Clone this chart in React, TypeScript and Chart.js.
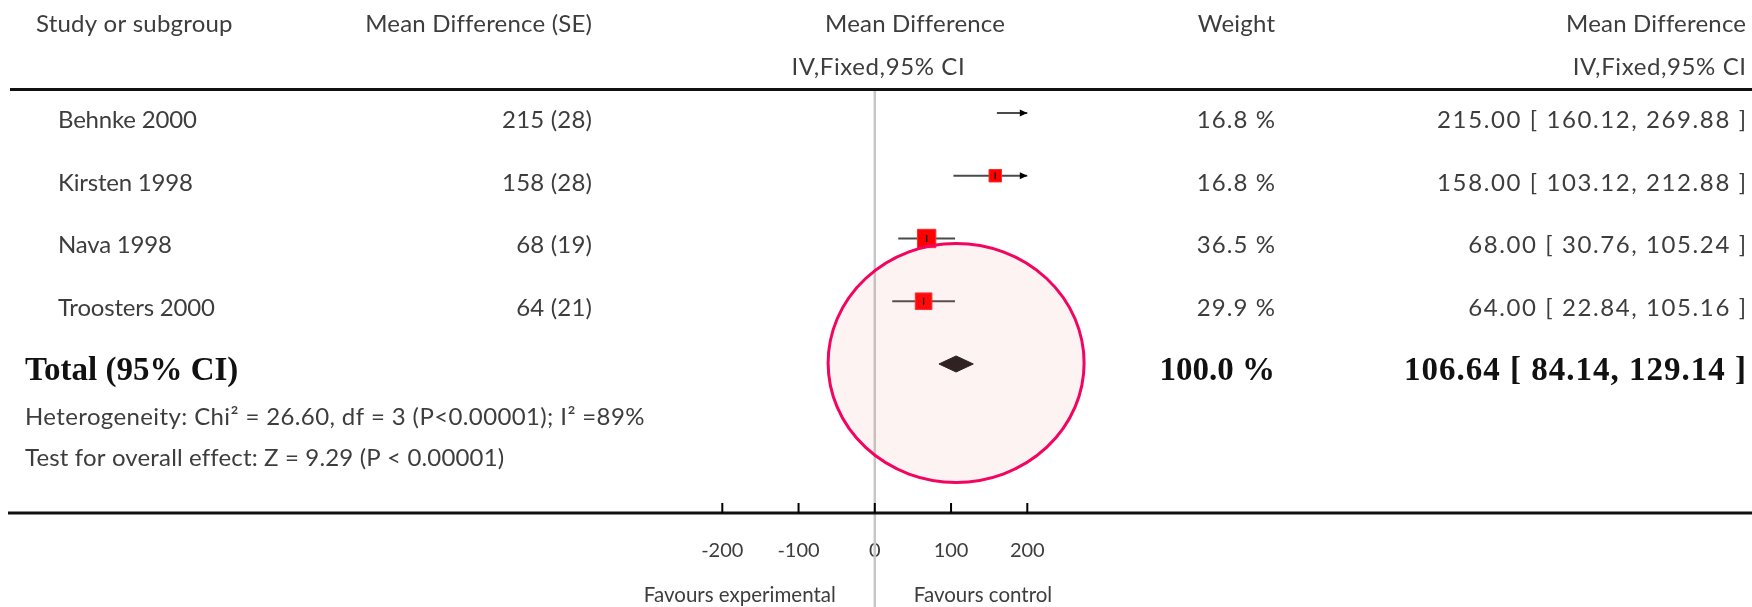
import React, { useEffect, useRef } from "react";
import { Chart, registerables } from "chart.js";

Chart.register(...registerables);

// ---------------- data ----------------
const studyNames = ["Behnke 2000", "Kirsten 1998", "Nava 1998", "Troosters 2000"];
const meanDifferences = [215, 158, 68, 64];
const standardErrors = [28, 28, 19, 21];
const studyWeights = [16.8, 16.8, 36.5, 29.9];
const ciLowerBounds = [160.12, 103.12, 30.76, 22.84];
const ciUpperBounds = [269.88, 212.88, 105.24, 105.16];

const totalLabel = "Total (95% CI)";
const totalMeanDifference = 106.64;
const totalCiLower = 84.14;
const totalCiUpper = 129.14;
const totalWeight = 100.0;

const axisTicks = [-200, -100, 0, 100, 200];
const headerTitles = ["Study or subgroup", "Mean Difference (SE)", "Mean Difference", "Weight", "Mean Difference"];
const headerSubtitles = ["IV,Fixed,95% CI", "IV,Fixed,95% CI"];
const footnotes = [
  "Heterogeneity: Chi\u00B2 = 26.60, df = 3 (P<0.00001); I\u00B2 =89%",
  "Test for overall effect: Z = 9.29 (P < 0.00001)",
];
const favoursLabels = ["Favours experimental", "Favours control"];

// ---------------- layout / style ----------------
const W = 1752;
const H = 607;
const PLOT_LEFT = 722.3;
const PLOT_RIGHT = 1027.3;
const PLOT_TOP = 88;
const PLOT_BOTTOM = 513;
const Y_MIN = -0.398;
const Y_MAX = 6.375;
const TICK_PAD = 26;
const TICK_FONT_SIZE = 20;
const SCALE_H = TICK_FONT_SIZE * 1.2 + 2 * TICK_PAD;

const FONT_MAIN = "24px Lato";
const FONT_AXIS = "20.5px Lato";
const FONT_BOLD = 'bold 33px "Liberation Serif"';
const TEXT_COLOR = "#3d3d3d";
const RULE_COLOR = "#111111";

const BOX_RADIUS_PER_SQRT_WEIGHT = 2.15;
const DIAMOND_HALF_HEIGHT = 0.128; // in row units

const xAxisMin = axisTicks[0];
const xAxisMax = axisTicks[axisTicks.length - 1];
const totalRow = studyNames.length;

function drawText(
  ctx: CanvasRenderingContext2D,
  str: string,
  x: number,
  y: number,
  align: CanvasTextAlign,
  font: string,
  spacing = 0.2,
  color = TEXT_COLOR
) {
  ctx.font = font;
  ctx.fillStyle = color;
  ctx.textAlign = align;
  ctx.textBaseline = "alphabetic";
  (ctx as any).letterSpacing = `${spacing}px`;
  // letterSpacing adds trailing space after the last glyph; compensate for right alignment
  const shift = align === "right" ? spacing : align === "center" ? spacing / 2 : 0;
  ctx.fillText(str, x + shift, y);
  (ctx as any).letterSpacing = "0px";
}

const forestPlugin = {
  id: "forestDecor",
  beforeDatasetsDraw(chart: any) {
    const { ctx, scales } = chart;
    const x = scales.x;
    const x0 = x.getPixelForValue(0);
    ctx.save();
    ctx.strokeStyle = "#c6c6c6";
    ctx.lineWidth = 2.5;
    ctx.beginPath();
    ctx.moveTo(x0, 91);
    ctx.lineTo(x0, H);
    ctx.stroke();
    ctx.restore();
  },
  afterDatasetsDraw(chart: any) {
    const { ctx, scales } = chart;
    const x = scales.x;
    const y = scales.y;
    ctx.save();
    // arrows for CIs running off the axis
    ctx.fillStyle = "#000";
    studyNames.forEach((_, i) => {
      const py = y.getPixelForValue(i);
      if (ciUpperBounds[i] > xAxisMax) {
        const px = x.getPixelForValue(xAxisMax);
        ctx.beginPath();
        ctx.moveTo(px, py);
        ctx.lineTo(px - 7.5, py - 3.5);
        ctx.lineTo(px - 7.5, py + 3.5);
        ctx.closePath();
        ctx.fill();
      }
      if (ciLowerBounds[i] < xAxisMin) {
        const px = x.getPixelForValue(xAxisMin);
        ctx.beginPath();
        ctx.moveTo(px, py);
        ctx.lineTo(px + 7.5, py - 3.5);
        ctx.lineTo(px + 7.5, py + 3.5);
        ctx.closePath();
        ctx.fill();
      }
    });
    // highlight ellipse around the pooled estimate
    const cx = x.getPixelForValue(totalMeanDifference);
    const cy = y.getPixelForValue(totalRow) - 1;
    ctx.beginPath();
    ctx.ellipse(cx, cy, 128, 119.5, 0, 0, Math.PI * 2);
    ctx.fillStyle = "rgba(235, 120, 120, 0.09)";
    ctx.fill();
    ctx.strokeStyle = "#f2045f";
    ctx.lineWidth = 3;
    ctx.stroke();
    ctx.restore();
  },
  afterDraw(chart: any) {
    const { ctx, scales } = chart;
    const x = scales.x;
    const y = scales.y;
    ctx.save();
    // rules
    ctx.strokeStyle = RULE_COLOR;
    ctx.lineWidth = 3;
    ctx.beginPath();
    ctx.moveTo(10, 89.5);
    ctx.lineTo(W, 89.5);
    ctx.moveTo(8, PLOT_BOTTOM);
    ctx.lineTo(W, PLOT_BOTTOM);
    ctx.stroke();
    // axis tick marks (upward)
    ctx.lineWidth = 2;
    ctx.strokeStyle = "#000";
    axisTicks.forEach((v) => {
      const px = x.getPixelForValue(v);
      ctx.beginPath();
      ctx.moveTo(px, PLOT_BOTTOM - 10);
      ctx.lineTo(px, PLOT_BOTTOM);
      ctx.stroke();
    });

    // header
    drawText(ctx, headerTitles[0], 36, 32, "left", FONT_MAIN);
    drawText(ctx, headerTitles[1], 592, 32, "right", FONT_MAIN);
    drawText(ctx, headerTitles[2], 915, 32, "center", FONT_MAIN);
    drawText(ctx, headerTitles[3], 1275, 32, "right", FONT_MAIN);
    drawText(ctx, headerTitles[4], 1746, 32, "right", FONT_MAIN);
    drawText(ctx, headerSubtitles[0], 878, 75, "center", FONT_MAIN, 0.6);
    drawText(ctx, headerSubtitles[1], 1746, 75, "right", FONT_MAIN, 0.6);

    // study rows
    studyNames.forEach((name, i) => {
      const by = y.getPixelForValue(i) + 15;
      drawText(ctx, name, 58, by, "left", FONT_MAIN, -0.2);
      drawText(ctx, `${meanDifferences[i]} (${standardErrors[i]})`, 592, by, "right", FONT_MAIN);
      drawText(ctx, `${studyWeights[i].toFixed(1)} %`, 1275, by, "right", FONT_MAIN, 1.1);
      drawText(
        ctx,
        `${meanDifferences[i].toFixed(2)} [ ${ciLowerBounds[i].toFixed(2)}, ${ciUpperBounds[i].toFixed(2)} ]`,
        1746,
        by,
        "right",
        FONT_MAIN,
        1.6
      );
    });

    // total row
    const ty = y.getPixelForValue(totalRow) + 16;
    drawText(ctx, totalLabel, 25, ty, "left", FONT_BOLD, 0, "#111");
    drawText(ctx, `${totalWeight.toFixed(1)} %`, 1275, ty, "right", FONT_BOLD, 0, "#111");
    drawText(
      ctx,
      `${totalMeanDifference.toFixed(2)} [ ${totalCiLower.toFixed(2)}, ${totalCiUpper.toFixed(2)} ]`,
      1746,
      ty,
      "right",
      FONT_BOLD,
      1,
      "#111"
    );

    // footnotes
    drawText(ctx, footnotes[0], 25, 425, "left", FONT_MAIN, 0.38);
    drawText(ctx, footnotes[1], 25, 466, "left", FONT_MAIN, 0.15);

    // favours labels
    const x0 = x.getPixelForValue(0);
    drawText(ctx, favoursLabels[0], x0 - 39, 602, "right", FONT_AXIS, 0);
    drawText(ctx, favoursLabels[1], x0 + 39, 602, "left", FONT_AXIS, 0);
    ctx.restore();
  },
};

export default function App() {
  const canvasRef = useRef<HTMLCanvasElement>(null);

  useEffect(() => {
    if (!canvasRef.current) return;

    const ciDatasets = studyNames.map((name, i) => ({
      label: `${name} CI`,
      data: [
        { x: ciLowerBounds[i], y: i },
        { x: ciUpperBounds[i], y: i },
      ],
      showLine: true,
      borderColor: "#4a4a4a",
      borderWidth: 2,
      pointRadius: 0,
      clip: 0,
      order: 3,
    }));

    const estimatePoints = meanDifferences.map((m, i) => ({ x: m, y: i }));

    const diamond = [
      { x: totalCiLower, y: totalRow },
      { x: totalMeanDifference, y: totalRow - DIAMOND_HALF_HEIGHT },
      { x: totalCiUpper, y: totalRow },
      { x: totalMeanDifference, y: totalRow + DIAMOND_HALF_HEIGHT },
      { x: totalCiLower, y: totalRow },
    ];

    const chart = new Chart(canvasRef.current, {
      type: "scatter",
      data: {
        datasets: [
          ...ciDatasets,
          {
            label: "Study estimates",
            data: estimatePoints,
            pointStyle: "rect",
            pointRadius: (c: any) => BOX_RADIUS_PER_SQRT_WEIGHT * Math.sqrt(studyWeights[c.dataIndex]),
            pointBackgroundColor: "#ff0000",
            pointBorderColor: "#ff2a2a",
            pointBorderWidth: 1,
            order: 2,
          },
          {
            label: "Point marks",
            data: estimatePoints,
            pointStyle: "line",
            pointRotation: 90,
            pointRadius: 3.5,
            pointBorderColor: "#000",
            pointBorderWidth: 1.2,
            order: 1,
          },
          {
            label: "Total",
            data: diamond,
            showLine: true,
            fill: "shape",
            backgroundColor: "#1e1a1a",
            borderColor: "#1e1a1a",
            borderWidth: 1,
            pointRadius: 0,
            tension: 0,
            order: 2,
          },
        ] as any,
      },
      options: {
        responsive: false,
        animation: false,
        events: [],
        layout: {
          padding: {
            left: PLOT_LEFT,
            right: W - PLOT_RIGHT,
            top: PLOT_TOP,
            bottom: H - PLOT_BOTTOM - SCALE_H,
          },
        },
        plugins: {
          legend: { display: false },
          tooltip: { enabled: false },
        },
        scales: {
          x: {
            type: "linear",
            position: "bottom",
            min: xAxisMin,
            max: xAxisMax,
            grid: { display: false, drawTicks: false },
            border: { display: false },
            afterBuildTicks: (scale: any) => {
              scale.ticks = axisTicks.map((v) => ({ value: v }));
            },
            ticks: {
              autoSkip: false,
              maxRotation: 0,
              padding: TICK_PAD,
              color: TEXT_COLOR,
              font: { family: "Lato", size: TICK_FONT_SIZE },
              callback: (v: any) => String(v),
            },
          },
          y: {
            type: "linear",
            min: Y_MIN,
            max: Y_MAX,
            reverse: true,
            display: false,
          },
        },
      } as any,
      plugins: [forestPlugin],
    });

    return () => chart.destroy();
  }, []);

  return (
    <div style={{ position: "absolute", left: 0, top: 0, width: W, height: H, background: "#fff" }}>
      <canvas ref={canvasRef} width={W} height={H} style={{ display: "block", width: W, height: H }} />
    </div>
  );
}
